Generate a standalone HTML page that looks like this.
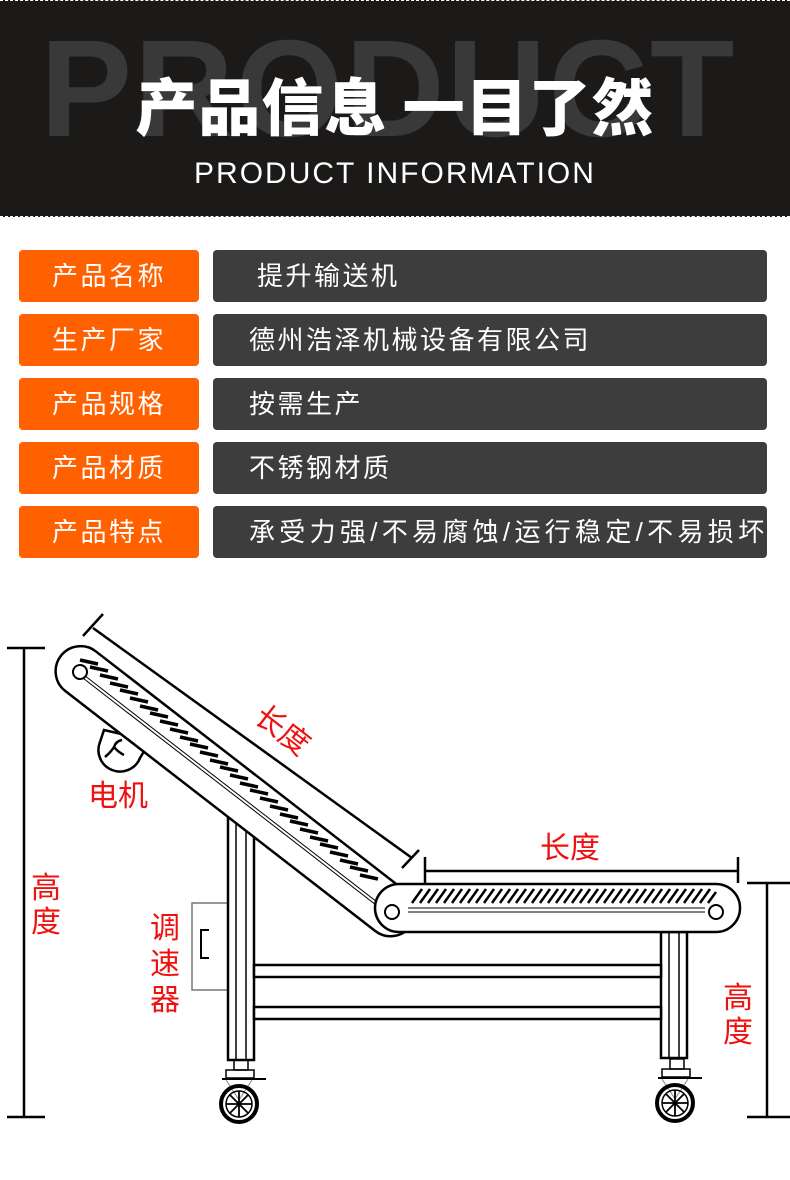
<!DOCTYPE html>
<html><head><meta charset="utf-8"><style>
body{margin:0;width:790px;height:1180px;background:#fff;position:relative;overflow:hidden;font-family:"Liberation Sans","Noto Sans CJK SC",sans-serif}
.hdr{position:absolute;left:0;top:0;width:790px;height:217px;background:#1c1a19;border-top:1px dashed #fff;border-bottom:1px dashed #fff;box-sizing:border-box;overflow:hidden}
.big{position:absolute;left:40px;top:18px;font:bold 138px "Liberation Sans",sans-serif;color:#393939;letter-spacing:2px;line-height:140px}
.ttl{position:absolute;left:0;width:790px;top:62px;text-align:center;font:900 62px "Noto Sans CJK SC",sans-serif;color:#fff;line-height:80px;letter-spacing:1px}
.sub{position:absolute;left:0;width:790px;top:156px;text-align:center;font:30px "Liberation Sans",sans-serif;color:#fff;letter-spacing:2px}
.l,.r{position:absolute;height:52px;border-radius:4px;color:#fff;font-size:26px;line-height:52px;font-family:"Liberation Sans","Noto Sans CJK SC",sans-serif}
.l{left:19px;width:180px;background:#ff6000;text-align:center;letter-spacing:2.5px}
.r{left:213px;width:554px;background:#3d3d3d;padding-left:36px;box-sizing:border-box;letter-spacing:2.5px;white-space:nowrap}
svg{position:absolute;left:0;top:0}
.red{fill:#f01010;font-family:"Liberation Sans","Noto Sans CJK SC",sans-serif;font-size:30px}
</style></head><body>
<div class="hdr"><div class="big">PRODUCT</div><div class="ttl">产品信息 一目了然</div><div class="sub">PRODUCT INFORMATION</div></div>
<div class="l" style="top:250px">产品名称</div><div class="r" style="top:250px;padding-left:44px">提升输送机</div>
<div class="l" style="top:314px">生产厂家</div><div class="r" style="top:314px">德州浩泽机械设备有限公司</div>
<div class="l" style="top:378px">产品规格</div><div class="r" style="top:378px">按需生产</div>
<div class="l" style="top:442px">产品材质</div><div class="r" style="top:442px">不锈钢材质</div>
<div class="l" style="top:506px">产品特点</div><div class="r" style="top:506px;letter-spacing:4.3px">承受力强/不易腐蚀/运行稳定/不易损坏</div>
<svg width="790" height="1180" viewBox="0 0 790 1180">
<g stroke="#000" fill="none" stroke-width="2.5">
<line x1="24" y1="648" x2="24" y2="1117"/><line x1="7" y1="648" x2="45" y2="648"/><line x1="7" y1="1117" x2="45" y2="1117"/>
<line x1="767" y1="883" x2="767" y2="1117"/><line x1="747" y1="883" x2="790" y2="883"/><line x1="747" y1="1117" x2="790" y2="1117"/>
<line x1="425" y1="871" x2="738" y2="871"/><line x1="425" y1="857" x2="425" y2="883"/><line x1="738" y1="857" x2="738" y2="883"/>
<line x1="93" y1="628" x2="412" y2="858"/><line x1="83" y1="636" x2="103" y2="614"/><line x1="402" y1="868" x2="419" y2="850"/>
<rect x="192" y="903" width="36" height="87" stroke="#777" stroke-width="1.5" fill="#fff"/>
<path d="M209 930 H201 V958 H209" stroke-width="2"/>
<rect x="228" y="800" width="26" height="260" fill="#fff"/>
<line x1="236" y1="800" x2="236" y2="1060" stroke-width="1.5"/><line x1="246" y1="800" x2="246" y2="1060" stroke-width="1.5"/>
<rect x="661" y="932" width="26" height="126" fill="#fff"/>
<line x1="669" y1="932" x2="669" y2="1058" stroke-width="1.5"/><line x1="679" y1="932" x2="679" y2="1058" stroke-width="1.5"/>
<rect x="254" y="965" width="407" height="12" fill="#fff"/>
<rect x="254" y="1007" width="407" height="12" fill="#fff"/>
<g id="c">
<rect x="234" y="1060" width="14" height="10" stroke-width="1.5"/>
<rect x="226" y="1070" width="28" height="8" stroke-width="1.5"/>
<line x1="222" y1="1079" x2="266" y2="1079" stroke-width="2"/>
<path d="M226 1080 L239 1100 L252 1080" stroke-width="1" stroke="#888"/>
<circle cx="239" cy="1104" r="18" stroke-width="4"/>
<circle cx="239" cy="1104" r="13" stroke-width="1.5"/>
<path d="M239 1091 V1117 M226 1104 H252 M230 1095 L248 1113 M248 1095 L230 1113" stroke-width="1.8"/>
</g>
<use href="#c" transform="translate(436,-1)"/>
<path d="M100 742 A20 20 0 1 0 140 758 L146 748 L130 736 L104 730 Z" stroke-width="2.5" fill="#fff"/>
<path d="M105 757 Q111 752 114 747 Q118 752 124 755 M114 747 Q116 741 122 740" stroke-width="2.5"/>
<g transform="translate(80,672) rotate(37.75)">
<rect x="-25" y="-26" width="442" height="50" rx="25" fill="#fff"/>
<circle cx="0" cy="0" r="7" stroke-width="2"/>
<circle cx="392" cy="0" r="7" stroke-width="2"/>
<line x1="7" y1="0" x2="385" y2="0" stroke-width="1"/><line x1="7" y1="3" x2="385" y2="3" stroke-width="1"/>
</g>
<rect x="375" y="884" width="365" height="48" rx="24" fill="#fff"/>
<circle cx="392" cy="912" r="7" stroke-width="2"/><circle cx="716" cy="912" r="7" stroke-width="2"/>
<line x1="408" y1="908" x2="705" y2="908" stroke-width="1"/><line x1="408" y1="912" x2="705" y2="912" stroke-width="1"/>
<path stroke-width="2.5" d="M412 903 l10 -14 M420 903 l10 -14 M428 903 l10 -14 M436 903 l10 -14 M444 903 l10 -14 M452 903 l10 -14 M460 903 l10 -14 M468 903 l10 -14 M476 903 l10 -14 M484 903 l10 -14 M492 903 l10 -14 M500 903 l10 -14 M508 903 l10 -14 M516 903 l10 -14 M524 903 l10 -14 M532 903 l10 -14 M540 903 l10 -14 M548 903 l10 -14 M556 903 l10 -14 M564 903 l10 -14 M572 903 l10 -14 M580 903 l10 -14 M588 903 l10 -14 M596 903 l10 -14 M604 903 l10 -14 M612 903 l10 -14 M620 903 l10 -14 M628 903 l10 -14 M636 903 l10 -14 M644 903 l10 -14 M652 903 l10 -14 M660 903 l10 -14 M668 903 l10 -14 M676 903 l10 -14 M684 903 l10 -14 M692 903 l10 -14 M700 903 l10 -14 M708 903 l8 -11"/>
</g>
<path stroke="#000" stroke-width="3.5" fill="none" d="
M80 660 l18 4 M90 667 l18 4 M100 675 l18 4 M110 683 l18 4 M120 690 l18 4 M130 698 l18 4 M140 706 l18 4 M150 713 l18 4 M160 721 l18 4 M170 729 l18 4 M180 737 l18 4 M190 744 l18 4 M200 752 l18 4 M210 760 l18 4 M220 767 l18 4 M230 775 l18 4 M240 783 l18 4 M250 790 l18 4 M260 798 l18 4 M270 806 l18 4 M280 814 l18 4 M290 821 l18 4 M300 829 l18 4 M310 837 l18 4 M320 844 l18 4 M330 852 l18 4 M340 860 l18 4 M350 867 l18 4 M360 875 l18 4"/>
<text class="red" x="88" y="806" font-size="29">电机</text>
<text class="red" x="245" y="738" transform="rotate(37.75 275 740)">长度</text>
<text class="red" x="540" y="858">长度</text>
<text class="red" x="31" y="898">高</text><text class="red" x="31" y="932">度</text>
<text class="red" x="150" y="938">调</text><text class="red" x="150" y="974">速</text><text class="red" x="150" y="1010">器</text>
<text class="red" x="723" y="1008">高</text><text class="red" x="723" y="1042">度</text>
</svg>
</body></html>
